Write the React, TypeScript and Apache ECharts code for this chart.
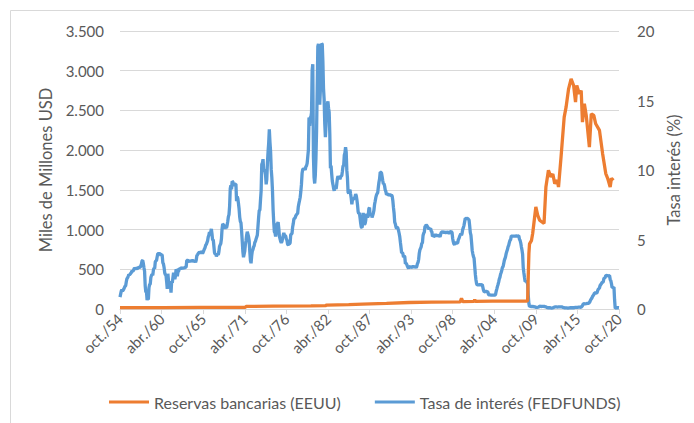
import React, { useEffect, useRef } from "react";
import * as echarts from "echarts";

// X axis tick labels (every 66 months starting oct. 1954)
const xTickLabels = [
  "oct./54", "abr./60", "oct./65", "abr./71", "oct./76", "abr./82", "oct./87",
  "abr./93", "oct./98", "abr./04", "oct./09", "abr./15", "oct./20",
];
const monthsPerTick = 66;
const firstYear = 1954;
const firstMonth = 10;

// Federal funds effective rate (%), monthly from oct. 1954 to oct. 2020
const fedFunds1954 = [0.85, 0.83, 1.28];
const fedFunds1955to1964 = [
  1.39, 1.29, 1.35, 1.43, 1.43, 1.64, 1.68, 1.96, 2.18, 2.24, 2.35, 2.48,
  2.45, 2.5, 2.5, 2.62, 2.75, 2.71, 2.75, 2.73, 2.95, 2.96, 2.88, 2.94,
  2.84, 3.0, 2.96, 3.0, 3.0, 3.0, 2.99, 3.24, 3.47, 3.5, 3.28, 2.98,
  2.72, 1.67, 1.2, 1.26, 0.63, 0.93, 0.68, 1.53, 1.76, 1.8, 2.27, 2.42,
  2.48, 2.43, 2.8, 2.96, 2.9, 3.39, 3.47, 3.5, 3.76, 3.98, 4.0, 3.99,
  3.99, 3.97, 3.84, 3.92, 3.85, 3.32, 3.23, 2.98, 2.6, 2.47, 2.44, 1.98,
  1.45, 2.54, 2.02, 1.49, 1.98, 1.73, 1.17, 2.0, 1.88, 2.26, 2.62, 2.33,
  2.15, 2.37, 2.85, 2.78, 2.36, 2.68, 2.71, 2.93, 2.9, 2.9, 2.94, 2.93,
  2.92, 3.0, 2.98, 2.9, 3.0, 2.99, 3.02, 3.49, 3.48, 3.5, 3.48, 3.38,
  3.48, 3.48, 3.43, 3.47, 3.5, 3.5, 3.42, 3.5, 3.45, 3.36, 3.52, 3.85,
];
const fedFunds1965to1974 = [
  3.9, 3.98, 4.04, 4.09, 4.1, 4.04, 4.09, 4.12, 4.01, 4.08, 4.1, 4.32,
  4.42, 4.6, 4.65, 4.67, 4.9, 5.17, 5.3, 5.53, 5.4, 5.53, 5.76, 5.4,
  4.94, 5.0, 4.53, 4.05, 3.94, 3.98, 3.79, 3.9, 3.99, 3.88, 4.13, 4.51,
  4.61, 4.71, 5.05, 5.76, 6.11, 6.07, 6.02, 6.03, 5.78, 5.91, 5.82, 6.02,
  6.3, 6.64, 6.79, 7.41, 8.67, 8.9, 8.61, 9.19, 9.15, 9.0, 8.85, 8.97,
  8.98, 8.98, 7.76, 8.1, 7.95, 7.61, 7.21, 6.61, 6.29, 6.2, 5.6, 4.9,
  4.14, 3.72, 3.71, 4.16, 4.63, 4.91, 5.31, 5.56, 5.55, 5.2, 4.91, 4.14,
  3.5, 3.29, 3.83, 4.17, 4.27, 4.46, 4.55, 4.8, 4.87, 5.04, 5.06, 5.33,
  5.94, 6.58, 7.09, 7.12, 7.84, 8.49, 10.4, 10.5, 10.78, 10.01, 10.03, 9.95,
  9.65, 8.97, 9.35, 10.51, 11.31, 11.93, 12.92, 12.01, 11.34, 10.06, 9.45, 8.53,
];
const fedFunds1975to1984 = [
  7.13, 6.24, 5.54, 5.49, 5.22, 5.55, 6.1, 6.14, 6.24, 5.82, 5.22, 5.2,
  4.87, 4.77, 4.84, 4.82, 5.29, 5.48, 5.31, 5.29, 5.25, 5.02, 4.95, 4.65,
  4.61, 4.68, 4.69, 4.73, 5.35, 5.39, 5.42, 5.9, 6.14, 6.47, 6.51, 6.56,
  6.7, 6.78, 6.79, 6.89, 7.36, 7.6, 7.81, 8.04, 8.45, 8.96, 9.76, 10.03,
  10.07, 10.06, 10.09, 10.01, 10.24, 10.29, 10.47, 10.94, 11.43, 13.77, 13.18, 13.78,
  13.82, 14.13, 17.19, 17.61, 10.98, 9.47, 9.03, 9.61, 10.87, 12.81, 15.85, 18.9,
  19.08, 15.93, 14.7, 15.72, 18.52, 19.1, 19.04, 17.82, 15.87, 15.08, 13.31, 12.37,
  13.22, 14.78, 14.68, 14.94, 14.45, 14.15, 12.59, 10.12, 10.31, 9.71, 9.2, 8.95,
  8.68, 8.51, 8.77, 8.8, 8.63, 8.98, 9.37, 9.56, 9.45, 9.48, 9.34, 9.47,
  9.56, 9.59, 9.91, 10.29, 10.32, 11.06, 11.23, 11.64, 11.3, 9.99, 9.43, 8.38,
];
const fedFunds1985to1994 = [
  8.35, 8.5, 8.58, 8.27, 7.97, 7.53, 7.88, 7.9, 7.92, 7.99, 8.05, 8.27,
  8.14, 7.86, 7.48, 6.99, 6.85, 6.92, 6.56, 6.17, 5.89, 5.85, 6.04, 6.91,
  6.43, 6.1, 6.13, 6.37, 6.85, 6.73, 6.58, 6.73, 7.22, 7.29, 6.69, 6.77,
  6.83, 6.58, 6.58, 6.87, 7.09, 7.51, 7.75, 8.01, 8.19, 8.3, 8.35, 8.76,
  9.12, 9.36, 9.85, 9.84, 9.81, 9.53, 9.24, 8.99, 9.02, 8.84, 8.55, 8.45,
  8.23, 8.24, 8.28, 8.26, 8.18, 8.29, 8.15, 8.13, 8.2, 8.11, 7.81, 7.31,
  6.91, 6.25, 6.12, 5.91, 5.78, 5.9, 5.82, 5.66, 5.45, 5.21, 4.81, 4.43,
  4.03, 4.06, 3.98, 3.73, 3.82, 3.76, 3.25, 3.3, 3.22, 3.1, 3.09, 2.92,
  3.02, 3.03, 3.07, 2.96, 3.0, 3.04, 3.06, 3.03, 3.09, 2.99, 3.02, 2.96,
  3.05, 3.25, 3.34, 3.56, 4.01, 4.25, 4.26, 4.47, 4.73, 4.76, 5.29, 5.45,
];
const fedFunds1995to2004 = [
  5.53, 5.92, 5.98, 6.05, 6.01, 6.0, 5.85, 5.74, 5.8, 5.76, 5.8, 5.6,
  5.56, 5.22, 5.31, 5.22, 5.24, 5.27, 5.4, 5.22, 5.3, 5.24, 5.31, 5.29,
  5.25, 5.19, 5.39, 5.51, 5.5, 5.56, 5.52, 5.54, 5.54, 5.5, 5.52, 5.5,
  5.56, 5.51, 5.49, 5.45, 5.49, 5.56, 5.54, 5.55, 5.51, 5.07, 4.83, 4.68,
  4.63, 4.76, 4.81, 4.74, 4.74, 4.76, 4.99, 5.07, 5.22, 5.2, 5.42, 5.3,
  5.45, 5.73, 5.85, 6.02, 6.27, 6.53, 6.54, 6.5, 6.52, 6.51, 6.51, 6.4,
  5.98, 5.49, 5.31, 4.8, 4.21, 3.97, 3.77, 3.65, 3.07, 2.49, 2.09, 1.82,
  1.73, 1.74, 1.73, 1.75, 1.75, 1.75, 1.73, 1.74, 1.75, 1.75, 1.34, 1.24,
  1.24, 1.26, 1.25, 1.26, 1.26, 1.22, 1.01, 1.03, 1.01, 1.01, 1.0, 0.98,
  1.0, 1.01, 1.0, 1.0, 1.0, 1.03, 1.26, 1.43, 1.61, 1.76, 1.93, 2.16,
];
const fedFunds2005to2014 = [
  2.28, 2.5, 2.63, 2.79, 3.0, 3.04, 3.26, 3.5, 3.62, 3.78, 4.0, 4.16,
  4.29, 4.49, 4.59, 4.79, 4.94, 4.99, 5.24, 5.25, 5.25, 5.25, 5.25, 5.24,
  5.25, 5.26, 5.26, 5.25, 5.25, 5.25, 5.26, 5.02, 4.94, 4.76, 4.49, 4.24,
  3.94, 2.98, 2.61, 2.28, 1.98, 2.0, 2.01, 2.0, 1.81, 0.97, 0.39, 0.16,
  0.15, 0.22, 0.18, 0.15, 0.18, 0.21, 0.16, 0.16, 0.15, 0.12, 0.12, 0.12,
  0.11, 0.13, 0.16, 0.2, 0.2, 0.18, 0.18, 0.19, 0.19, 0.19, 0.19, 0.18,
  0.17, 0.16, 0.14, 0.1, 0.09, 0.09, 0.07, 0.1, 0.08, 0.07, 0.08, 0.07,
  0.08, 0.1, 0.13, 0.14, 0.16, 0.16, 0.16, 0.13, 0.14, 0.16, 0.16, 0.16,
  0.14, 0.15, 0.14, 0.15, 0.11, 0.09, 0.09, 0.08, 0.08, 0.09, 0.08, 0.09,
  0.07, 0.07, 0.08, 0.09, 0.09, 0.1, 0.09, 0.09, 0.09, 0.09, 0.09, 0.12,
];
const fedFunds2015to2020 = [
  0.11, 0.11, 0.11, 0.12, 0.12, 0.13, 0.13, 0.14, 0.14, 0.12, 0.12, 0.24,
  0.34, 0.38, 0.36, 0.37, 0.37, 0.38, 0.39, 0.4, 0.4, 0.4, 0.41, 0.54,
  0.65, 0.66, 0.79, 0.9, 0.91, 1.04, 1.15, 1.16, 1.15, 1.15, 1.16, 1.3,
  1.41, 1.42, 1.51, 1.69, 1.7, 1.82, 1.91, 1.91, 1.95, 2.19, 2.2, 2.27,
  2.4, 2.4, 2.41, 2.42, 2.39, 2.38, 2.4, 2.13, 2.04, 1.83, 1.55, 1.55,
  1.55, 1.58, 0.65, 0.05, 0.05, 0.08, 0.09, 0.1, 0.09, 0.09,
];
const fedFunds = [
  ...fedFunds1954, ...fedFunds1955to1964, ...fedFunds1965to1974,
  ...fedFunds1975to1984, ...fedFunds1985to1994, ...fedFunds1995to2004,
  ...fedFunds2005to2014, ...fedFunds2015to2020,
];

// Bank reserves (billions USD) at dated points
const reserveDates = [
  "1954-10", "1960-06", "1965-06", "1971-05", "1971-06", "1975-01", "1980-01",
  "1981-12", "1982-02", "1985-01", "1986-11", "1990-01", "1993-01", "1996-01",
  "1999-10", "1999-12", "2000-02", "2001-08", "2001-09", "2001-10", "2004-01",
  "2008-08", "2008-09", "2008-10", "2008-11", "2008-12", "2009-03", "2009-05",
  "2009-10", "2010-01", "2010-04", "2010-11", "2011-02", "2011-06", "2011-10",
  "2012-01", "2012-04", "2012-08", "2012-10", "2013-02", "2013-07", "2013-10",
  "2014-02", "2014-06", "2014-10", "2015-01", "2015-03", "2015-07", "2015-10",
  "2015-12", "2016-03", "2016-06", "2016-11", "2017-02", "2017-06", "2017-09",
  "2018-03", "2018-08", "2019-01", "2019-04", "2019-08", "2019-10", "2020-01",
];
const reserveValues = [
  18, 18, 20, 22, 32, 36, 40,
  42, 50, 55, 62, 70, 82, 86,
  90, 135, 92, 95, 118, 96, 98,
  100, 113, 420, 700, 820, 860, 950,
  1285, 1180, 1118, 1076, 1537, 1746, 1662,
  1700, 1579, 1620, 1536, 1913, 2416, 2541,
  2772, 2898, 2814, 2604, 2814, 2709, 2750,
  2353, 2584, 2437, 2039, 2458, 2437, 2332,
  2249, 1956, 1705, 1646, 1536, 1646, 1620,
];

const seriesNames = ["Reservas bancarias (EEUU)", "Tasa de interés (FEDFUNDS)"];
const leftAxisName = "Miles de Millones USD";
const rightAxisName = "Tasa interés (%)";

function monthIndex(d: string): number {
  const [y, m] = d.split("-").map(Number);
  return (y - firstYear) * 12 + (m - firstMonth);
}

const FONT = "Lato";
const GREY = "#595959";

export default function App() {
  const ref = useRef<HTMLDivElement>(null);
  useEffect(() => {
    document.body.style.margin = "0";
    if (!ref.current) return;
    const chart = echarts.init(ref.current, undefined, { renderer: "svg" });
    const maxIdx = (xTickLabels.length - 1) * monthsPerTick;
    chart.setOption({
      animation: false,
      backgroundColor: "#ffffff",
      textStyle: { fontFamily: FONT },
      grid: { left: 120, right: 75, top: 31, bottom: 114 },
      graphic: [
        {
          type: "rect",
          shape: { x: 10.5, y: 10.5, width: 720, height: 440 },
          style: { fill: "none", stroke: "#D9D9D9", lineWidth: 1 },
          silent: true,
        },
      ],
      legend: {
        left: 104,
        top: 389,
        icon: "rect",
        itemWidth: 40,
        itemHeight: 3,
        itemGap: 34,
        textStyle: { fontFamily: FONT, fontSize: 16, color: GREY },
        data: seriesNames,
      },
      xAxis: {
        type: "value",
        min: 0,
        max: maxIdx,
        interval: monthsPerTick,
        splitLine: { show: false },
        axisLine: { show: true, lineStyle: { color: "#D9D9D9", width: 1 } },
        axisTick: { show: true, length: 5, lineStyle: { color: "#D9D9D9" } },
        axisLabel: {
          rotate: 45,
          margin: 7,
          fontFamily: FONT,
          fontSize: 15,
          color: GREY,
          formatter: (v: number) => xTickLabels[Math.round(v / monthsPerTick)] ?? "",
        },
      },
      yAxis: [
        {
          type: "value",
          min: 0,
          max: 3500,
          interval: 500,
          name: leftAxisName,
          nameLocation: "middle",
          nameGap: 63,
          nameRotate: 90,
          nameTextStyle: { fontFamily: FONT, fontSize: 16.5, color: GREY },
          axisLine: { show: false },
          axisTick: { show: false },
          splitLine: { lineStyle: { color: "#D9D9D9", width: 1 } },
          axisLabel: {
            margin: 16,
            fontFamily: FONT,
            fontSize: 15,
            color: GREY,
            formatter: (v: number) => v.toLocaleString("de-DE"),
          },
        },
        {
          type: "value",
          min: 0,
          max: 20,
          interval: 5,
          name: rightAxisName,
          nameLocation: "middle",
          nameGap: 43,
          nameRotate: 90,
          nameTextStyle: { fontFamily: FONT, fontSize: 16.5, color: GREY },
          axisLine: { show: false },
          axisTick: { show: false },
          splitLine: { show: false },
          axisLabel: { margin: 18, fontFamily: FONT, fontSize: 15, color: GREY },
        },
      ],
      series: [
        {
          name: seriesNames[0],
          type: "line",
          yAxisIndex: 0,
          showSymbol: false,
          symbol: "none",
          color: "#ED7D31",
          lineStyle: { width: 3.3, color: "#ED7D31" },
          data: reserveDates.map((d, i) => [monthIndex(d), reserveValues[i]]),
          z: 3,
        },
        {
          name: seriesNames[1],
          type: "line",
          yAxisIndex: 1,
          showSymbol: false,
          symbol: "none",
          color: "#5B9BD5",
          lineStyle: { width: 3.3, color: "#5B9BD5" },
          data: fedFunds.map((v, i) => [i, v]),
          z: 2,
        },
      ],
    });
    return () => chart.dispose();
  }, []);
  return <div ref={ref} style={{ width: 694, height: 423 }} />;
}
